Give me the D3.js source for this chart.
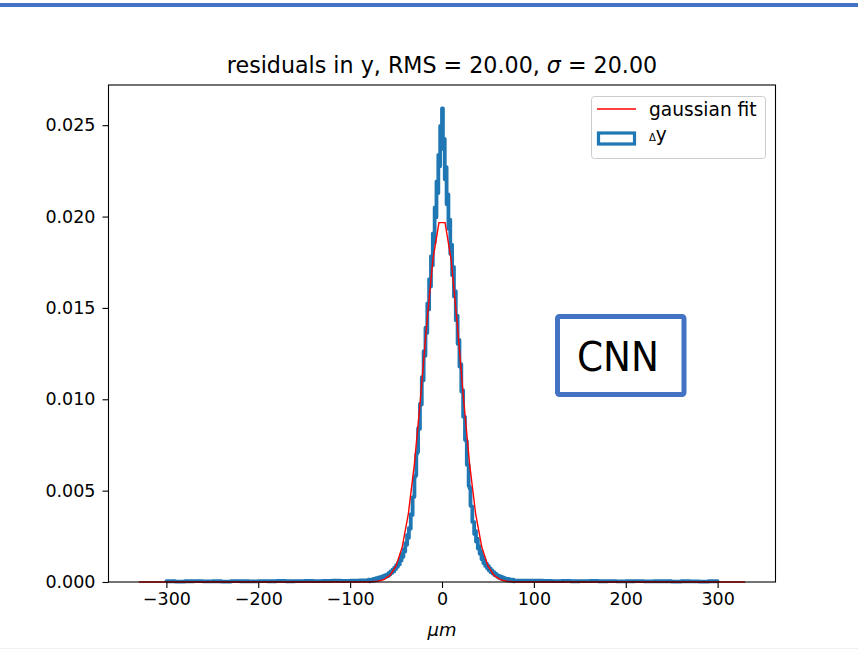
<!DOCTYPE html>
<html>
<head>
<meta charset="utf-8">
<script src="https://cdn.jsdelivr.net/npm/d3@7"></script>
<style>
  html, body { margin: 0; padding: 0; background: #ffffff; }
  svg { display: block; }
  text { font-family: "DejaVu Sans", sans-serif; fill: #000; }
</style>
</head>
<body>
<svg id="chart" width="858" height="653"></svg>
<script>
// ---------------- data ----------------
const titleText = "residuals in y, RMS = 20.00, ";
const titleSigma = "\u03C3";
const titleTail = " = 20.00";
const xTicks = [-300, -200, -100, 0, 100, 200, 300];
const yTicks = [0.000, 0.005, 0.010, 0.015, 0.020, 0.025];
const legendLabels = ["gaussian fit", "y"];

// histogram bin edges (µm): coarse tails, 1 µm bins in the centre
const tailLeftEdges = d3.range(-300, -79, 10);   // -300 .. -80
const centreEdges = d3.range(-80, 81, 1);        // -80 .. 80
const tailRightEdges = d3.range(80, 301, 10);    // 80 .. 300

// histogram densities
const tailLeftValues = [0.00004,0.00002,0.00004,0.00005,0.00003,0.00004,0.00002,0.00005,0.00004,0.00003,0.00005,0.00004,0.00006,0.00004,0.00005,0.00006,0.00005,0.00006,0.00007,0.00006,0.00008,0.00009];
const centreLeftValues = [ // bins -80 .. 0
  0.00013,0.00004,0.00008,0.00013,0.00008,0.00017,0.00008,0.00013,0.00021,0.00013,
  0.00013,0.00025,0.00017,0.00021,0.00029,0.00021,0.00033,0.00025,0.00038,0.00029,
  0.00042,0.00033,0.00050,0.00042,0.00058,0.00050,0.00067,0.00058,0.00079,0.00071,
  0.00092,0.00083,0.00104,0.00096,0.00129,0.00117,0.00154,0.00138,0.00179,0.00167,
  0.00213,0.00204,0.00258,0.00242,0.00296,0.00292,0.00371,0.00367,0.00463,0.00467,
  0.00575,0.00583,0.00700,0.00712,0.00842,0.00838,0.00975,0.00971,0.01121,0.01104,
  0.01263,0.01238,0.01392,0.01363,0.01525,0.01492,0.01658,0.01617,0.01783,0.01733,
  0.01908,0.01858,0.02050,0.01996,0.02192,0.02129,0.02338,0.02275,0.02496,0.02450];
const centreRightValues = [ // bins 0 .. 80
  0.02592,0.02371,0.02425,0.02204,0.02271,0.02067,0.02121,0.01933,0.01983,0.01796,
  0.01846,0.01679,0.01725,0.01563,0.01592,0.01433,0.01458,0.01304,0.01325,0.01179,
  0.01192,0.01042,0.01050,0.00904,0.00904,0.00779,0.00771,0.00642,0.00638,0.00525,
  0.00513,0.00417,0.00413,0.00329,0.00329,0.00263,0.00279,0.00221,0.00237,0.00183,
  0.00196,0.00154,0.00167,0.00125,0.00142,0.00104,0.00117,0.00088,0.00100,0.00075,
  0.00088,0.00063,0.00075,0.00054,0.00063,0.00046,0.00054,0.00038,0.00046,0.00033,
  0.00038,0.00025,0.00033,0.00021,0.00029,0.00017,0.00025,0.00013,0.00021,0.00013,
  0.00017,0.00008,0.00017,0.00013,0.00008,0.00013,0.00008,0.00013,0.00004,0.00008];
const tailRightValues = [0.00008,0.00007,0.00007,0.00006,0.00005,0.00006,0.00004,0.00005,0.00006,0.00004,0.00005,0.00003,0.00004,0.00005,0.00003,0.00004,0.00004,0.00002,0.00004,0.00003,0.00002,0.00004];

// gaussian fit curve vertices (µm, density)
const gaussX = [-330, -83.33, -76.67, -70, -63.33, -56.67, -50, -43.33, -36.67, -30, -23.33, -16.67, -10, -3.33,
                3.33, 10, 16.67, 23.33, 30, 36.67, 43.33, 50, 56.67, 63.33, 70, 76.67, 83.33, 330];
const gaussY = [0, 0.0000021, 0.0000129, 0.0000437, 0.000133, 0.000360, 0.000876, 0.00191, 0.00371, 0.00648, 0.01010, 0.01410, 0.01761, 0.01967,
                0.01967, 0.01761, 0.01410, 0.01010, 0.00648, 0.00371, 0.00191, 0.000876, 0.000360, 0.000133, 0.0000437, 0.0000129, 0.0000021, 0];

// ---------------- chart ----------------
const svg = d3.select("#chart");
const W = 858, H = 653;
const axLeft = 108.5, axRight = 775.5, axTop = 85, axBottom = 582;

// decorative slide elements
svg.append("rect").attr("x", 0).attr("y", 3).attr("width", W).attr("height", 4).attr("fill", "#4472c4");
svg.append("line").attr("x1", 0).attr("x2", W).attr("y1", 648.5).attr("y2", 648.5)
  .attr("stroke", "#edf0f5").attr("stroke-width", 1);

const x = d3.scaleLinear().domain([-363, 363]).range([axLeft, axRight]);
const y = d3.scaleLinear().domain([0, 0.0272]).range([axBottom, axTop]);

// histogram step outline
const edges = tailLeftEdges.concat(centreEdges.slice(1), tailRightEdges.slice(1));
const values = tailLeftValues.concat(centreLeftValues, centreRightValues, tailRightValues);
const pts = [[edges[0], 0]];
values.forEach((v, i) => { pts.push([edges[i], v]); pts.push([edges[i + 1], v]); });
pts.push([edges[edges.length - 1], 0]);

const line = d3.line().x(d => x(d[0])).y(d => y(d[1]));
svg.append("path").attr("d", line(pts))
  .attr("fill", "none").attr("stroke", "#1f77b4").attr("stroke-width", 3.8)
  .attr("stroke-linejoin", "round");

// gaussian fit
svg.append("path").attr("d", line(gaussX.map((g, i) => [g, gaussY[i]])))
  .attr("fill", "none").attr("stroke", "#ff0000").attr("stroke-width", 1.4);

// axes
const xAxis = d3.axisBottom(x).tickValues(xTicks).tickSize(6).tickPadding(5)
  .tickFormat(d3.format("d"));
const yAxis = d3.axisLeft(y).tickValues(yTicks).tickSize(6).tickPadding(7)
  .tickFormat(d3.format(".3f"));

const gx = svg.append("g").attr("transform", `translate(0,${axBottom})`).call(xAxis);
const gy = svg.append("g").attr("transform", `translate(${axLeft},0)`).call(yAxis);
[gx, gy].forEach(g => {
  g.select(".domain").remove();
  g.selectAll(".tick line").attr("stroke", "#000").attr("stroke-width", 1.1);
  g.selectAll(".tick text").attr("font-family", "DejaVu Sans").attr("font-size", 17.5).attr("fill", "#000");
});

// frame
svg.append("rect").attr("x", axLeft).attr("y", axTop).attr("width", axRight - axLeft).attr("height", axBottom - axTop)
  .attr("fill", "none").attr("stroke", "#000").attr("stroke-width", 1.1);

// title
const t = svg.append("text").attr("x", (axLeft + axRight) / 2).attr("y", 73)
  .attr("text-anchor", "middle").attr("font-size", 22.2);
t.append("tspan").text(titleText);
t.append("tspan").attr("font-style", "italic").text(titleSigma);
t.append("tspan").text(titleTail);

// x label
svg.append("text").attr("x", (axLeft + axRight) / 2).attr("y", 636)
  .attr("text-anchor", "middle").attr("font-size", 18).attr("font-style", "italic").text("\u03BCm");

// legend
const lg = svg.append("g");
lg.append("rect").attr("x", 591.5).attr("y", 96.5).attr("width", 174).attr("height", 62).attr("rx", 3)
  .attr("fill", "#fff").attr("fill-opacity", 0.8).attr("stroke", "#cccccc").attr("stroke-width", 1);
lg.append("line").attr("x1", 597).attr("x2", 636).attr("y1", 109).attr("y2", 109)
  .attr("stroke", "#ff0000").attr("stroke-width", 1.4);
lg.append("text").attr("x", 649).attr("y", 116).attr("font-size", 18.6).text(legendLabels[0]);
lg.append("rect").attr("x", 598.5).attr("y", 133).attr("width", 36).attr("height", 11)
  .attr("fill", "none").attr("stroke", "#1f77b4").attr("stroke-width", 3.2);
const lt = lg.append("text").attr("x", 649).attr("y", 141).attr("font-size", 18.6);
lt.append("tspan").attr("font-size", 10).text("\u0394");
lt.append("tspan").text(legendLabels[1]);

// CNN annotation box
svg.append("rect").attr("x", 557.5).attr("y", 316.5).attr("width", 126.5).attr("height", 78).attr("rx", 2)
  .attr("fill", "#fff").attr("stroke", "#4472c4").attr("stroke-width", 5);
svg.append("text").attr("x", 618).attr("y", 370.5).attr("text-anchor", "middle")
  .attr("font-family", "Lato, 'Open Sans', sans-serif").attr("font-size", 40)
  .attr("textLength", 82).attr("lengthAdjust", "spacingAndGlyphs").text("CNN");
</script>
</body>
</html>
